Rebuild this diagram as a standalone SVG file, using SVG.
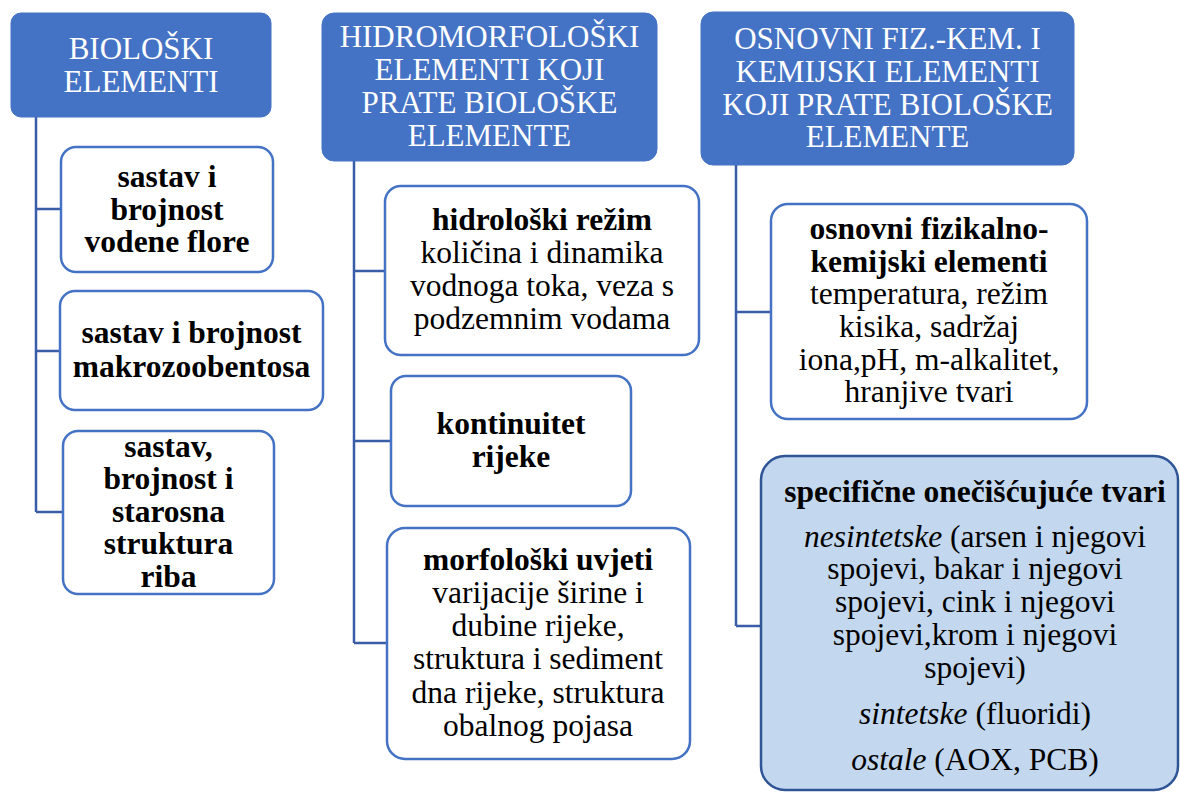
<svg xmlns="http://www.w3.org/2000/svg" width="1180" height="792" viewBox="0 0 1180 792">
<style>
.hdr{fill:#4472C4;stroke:#4472C4;stroke-width:1}
.box{fill:#FFFFFF;stroke:#4472C4;stroke-width:2.5}
.box2{fill:#C3D8EE;stroke:#2F5597;stroke-width:2.5}
.conn{fill:none;stroke:#3A5DA8;stroke-width:2.5}
text{font-family:"Liberation Serif","Times New Roman",serif;font-size:31.5px;text-anchor:middle;fill:#000}
.ht{fill:#FFFFFF;font-size:31px}
.b{font-weight:bold}
.i{font-style:italic}
</style>
<rect width="1180" height="792" fill="#FFFFFF"/>
<g id="connectors">
<path class="conn" d="M36 117 V512 M36 209 H61 M36 351 H60 M36 512 H63"/>
<path class="conn" d="M354 161 V643 M354 271 H385 M354 441 H391 M354 643 H387"/>
<path class="conn" d="M736 165 V626 M736 312 H771 M736 626 H761"/>
</g>
<g id="h1">
<rect class="hdr" x="11" y="13" width="260" height="104" rx="10"/>
<text class="ht" x="141" y="59">BIOLOŠKI</text>
<text class="ht" x="141" y="92">ELEMENTI</text>
</g>
<g id="h2">
<rect class="hdr" x="322" y="13" width="335" height="148" rx="12"/>
<text class="ht" x="489.5" y="47">HIDROMORFOLOŠKI</text>
<text class="ht" x="489.5" y="80">ELEMENTI KOJI</text>
<text class="ht" x="489.5" y="113">PRATE BIOLOŠKE</text>
<text class="ht" x="489.5" y="146">ELEMENTE</text>
</g>
<g id="h3">
<rect class="hdr" x="701" y="12" width="373" height="153" rx="12"/>
<text class="ht" x="887.5" y="49">OSNOVNI FIZ.-KEM. I</text>
<text class="ht" x="887.5" y="82">KEMIJSKI ELEMENTI</text>
<text class="ht" x="887.5" y="115">KOJI PRATE BIOLOŠKE</text>
<text class="ht" x="887.5" y="147">ELEMENTE</text>
</g>
<g id="a1">
<rect class="box" x="61" y="147" width="212" height="125" rx="15"/>
<text class="b" x="167" y="187">sastav i</text>
<text class="b" x="167" y="220">brojnost</text>
<text class="b" x="167" y="252">vodene flore</text>
</g>
<g id="a2">
<rect class="box" x="60" y="291" width="263" height="119" rx="15"/>
<text class="b" x="191.5" y="343">sastav i brojnost</text>
<text class="b" x="191.5" y="377">makrozoobentosa</text>
</g>
<g id="a3">
<rect class="box" x="63" y="431" width="211" height="163" rx="15"/>
<text class="b" x="168.5" y="456.5">sastav,</text>
<text class="b" x="168.5" y="489">brojnost i</text>
<text class="b" x="168.5" y="521.5">starosna</text>
<text class="b" x="168.5" y="554">struktura</text>
<text class="b" x="168.5" y="586.5">riba</text>
</g>
<g id="b1">
<rect class="box" x="385" y="186" width="314" height="169" rx="16"/>
<text class="b" x="542" y="230">hidrološki režim</text>
<text x="542" y="263">količina i dinamika</text>
<text x="542" y="296">vodnoga toka, veza s</text>
<text x="542" y="329">podzemnim vodama</text>
</g>
<g id="b2">
<rect class="box" x="391" y="376" width="240" height="130" rx="15"/>
<text class="b" x="511" y="434">kontinuitet</text>
<text class="b" x="511" y="467">rijeke</text>
</g>
<g id="b3">
<rect class="box" x="387" y="528" width="303" height="231" rx="18"/>
<text class="b" x="538" y="570">morfološki uvjeti</text>
<text x="538" y="603">varijacije širine i</text>
<text x="538" y="636">dubine rijeke,</text>
<text x="538" y="669">struktura i sediment</text>
<text x="538" y="702.5">dna rijeke, struktura</text>
<text x="538" y="735.5">obalnog pojasa</text>
</g>
<g id="c1">
<rect class="box" x="771" y="204" width="316" height="215" rx="17"/>
<text class="b" x="929" y="239">osnovni fizikalno-</text>
<text class="b" x="929" y="272">kemijski elementi</text>
<text x="929" y="304">temperatura, režim</text>
<text x="929" y="337">kisika, sadržaj</text>
<text x="929" y="369.5">iona,pH, m-alkalitet,</text>
<text x="929" y="402">hranjive tvari</text>
</g>
<g id="c2">
<rect class="box2" x="761" y="456" width="417" height="334" rx="24"/>
<text class="b" x="975" y="502">specifične onečišćujuće tvari</text>
<text x="975" y="547"><tspan class="i">nesintetske</tspan> (arsen i njegovi</text>
<text x="975" y="579">spojevi, bakar i njegovi</text>
<text x="975" y="612">spojevi, cink i njegovi</text>
<text x="975" y="645">spojevi,krom i njegovi</text>
<text x="975" y="678">spojevi)</text>
<text x="975" y="724"><tspan class="i">sintetske</tspan> (fluoridi)</text>
<text x="975" y="770"><tspan class="i">ostale</tspan> (AOX, PCB)</text>
</g>
</svg>
